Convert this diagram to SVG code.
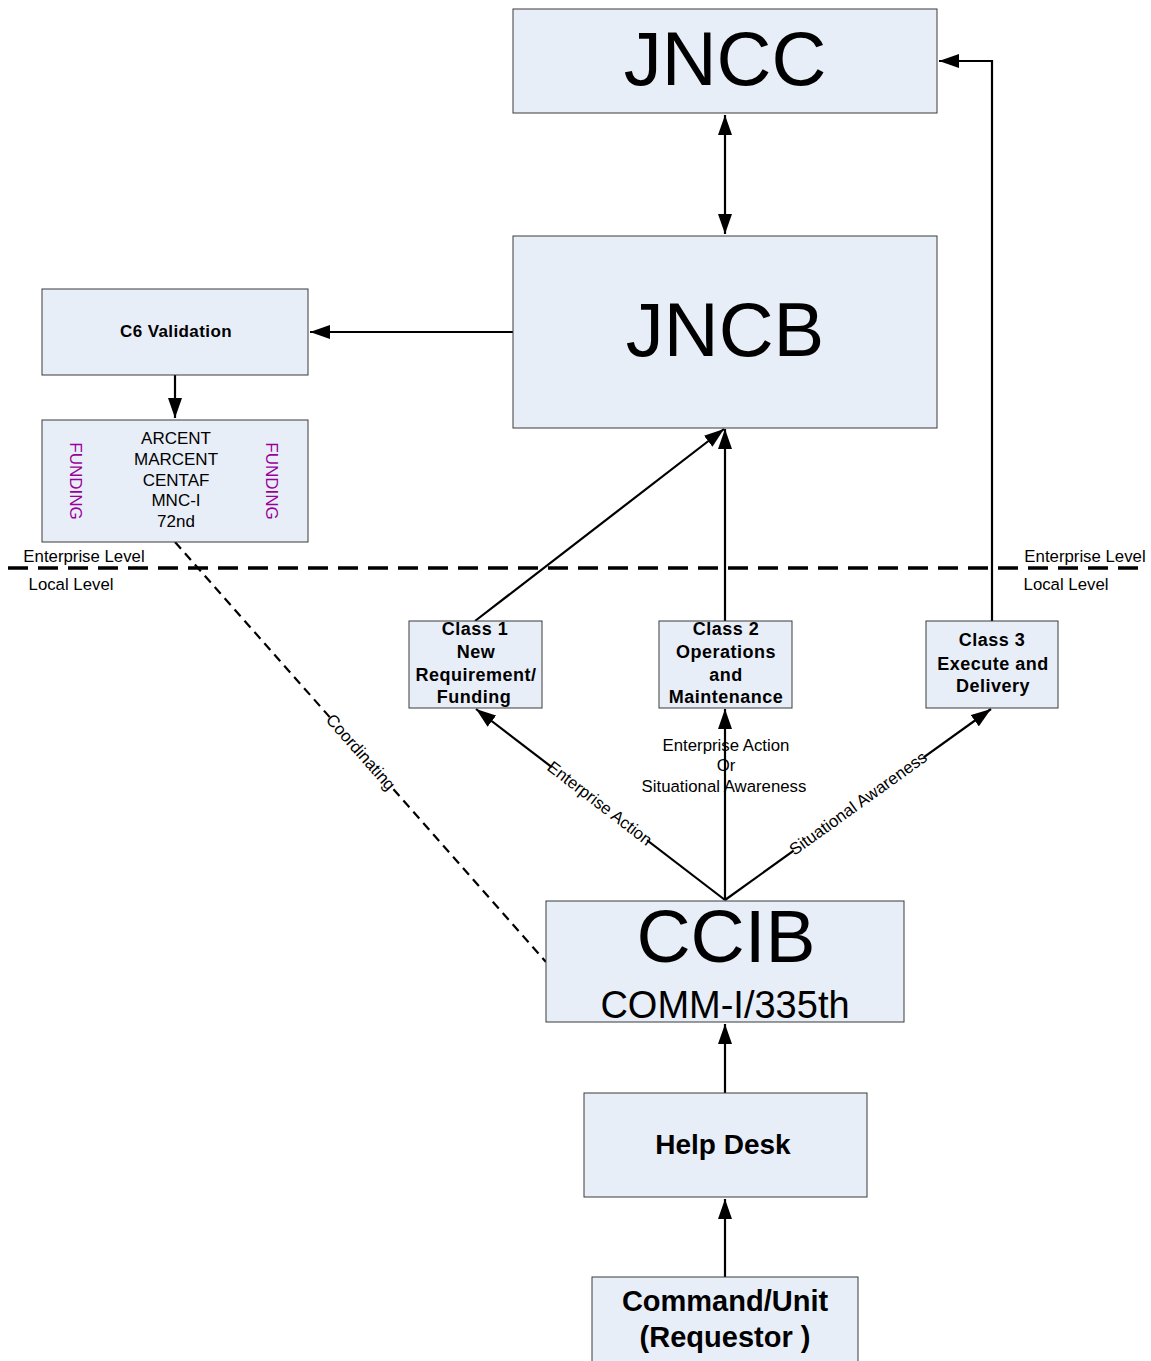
<svg xmlns="http://www.w3.org/2000/svg" width="1151" height="1361" viewBox="0 0 1151 1361">
<style>
.box{fill:#E8EEF7;stroke:#3a3a3a;stroke-width:1}
.t{font-family:"Liberation Sans",Arial,sans-serif;fill:#000;text-anchor:middle}
.b{font-weight:bold}
.cl{font-weight:bold;font-size:18px;letter-spacing:0.5px}
.c{stroke:#000;stroke-width:2.2;fill:none}
.lbl{font-family:"Liberation Sans",Arial,sans-serif;font-size:16.8px;text-anchor:middle;fill:#000}
.fund{font-family:"Liberation Sans",Arial,sans-serif;font-size:17px;fill:#990099;text-anchor:middle}
</style>
<defs>
<marker id="ah" viewBox="0 0 20 14" refX="20" refY="7" markerWidth="20" markerHeight="14" markerUnits="userSpaceOnUse" orient="auto-start-reverse">
<path d="M0,0 L20,7 L0,14 Z" fill="#000"/>
</marker>
</defs>
<rect width="1151" height="1361" fill="#fff"/>

<g id="connectors">
<line class="c" x1="725" y1="115" x2="725" y2="234" marker-start="url(#ah)" marker-end="url(#ah)"/>
<polyline class="c" points="992,621 992,61 939,61" marker-end="url(#ah)"/>
<line class="c" x1="513" y1="332" x2="310" y2="332" marker-end="url(#ah)"/>
<line class="c" x1="175" y1="375" x2="175" y2="418" marker-end="url(#ah)"/>
<line class="c" x1="475" y1="621" x2="724" y2="429" marker-end="url(#ah)"/>
<line class="c" x1="725" y1="621" x2="725" y2="429" marker-end="url(#ah)"/>
<line class="c" x1="725" y1="900" x2="476" y2="709" marker-end="url(#ah)"/>
<line class="c" x1="725" y1="900" x2="725" y2="709" marker-end="url(#ah)"/>
<line class="c" x1="725" y1="900" x2="991" y2="709" marker-end="url(#ah)"/>
<line class="c" x1="725" y1="1093" x2="725" y2="1024" marker-end="url(#ah)"/>
<line class="c" x1="725" y1="1277" x2="725" y2="1199" marker-end="url(#ah)"/>
<line x1="175" y1="542" x2="546" y2="962" stroke="#000" stroke-width="2.2" stroke-dasharray="9,6"/>
<line x1="8" y1="568" x2="1145" y2="568" stroke="#000" stroke-width="3.5" stroke-dasharray="20,10"/>
<g transform="translate(600,803) rotate(37.5)">
<rect x="-60" y="-10" width="120" height="20" fill="#fff"/>
<text class="lbl" x="0" y="6">Enterprise Action</text>
</g>
<g transform="translate(858,803) rotate(-35.7)">
<rect x="-80" y="-10" width="160" height="20" fill="#fff"/>
<text class="lbl" x="0" y="6">Situational Awareness</text>
</g>
<g transform="translate(361,752) rotate(48.5)">
<rect x="-47" y="-10" width="94" height="20" fill="#fff"/>
<text class="lbl" x="0" y="6">Coordinating</text>
</g>
<text class="lbl" x="726" y="751">Enterprise Action</text>
<text class="lbl" x="726" y="771">Or</text>
<text class="lbl" x="724" y="792">Situational Awareness</text>
<text class="lbl" x="84" y="562">Enterprise Level</text>
<text class="lbl" x="71" y="590">Local Level</text>
<text class="lbl" x="1085" y="562">Enterprise Level</text>
<text class="lbl" x="1066" y="590">Local Level</text>
</g>

<g id="jncc">
<rect class="box" x="513" y="9" width="424" height="104"/>
<text class="t" x="725" y="85" font-size="76">JNCC</text>
</g>
<g id="jncb">
<rect class="box" x="513" y="236" width="424" height="192"/>
<text class="t" x="725" y="356" font-size="76">JNCB</text>
</g>
<g id="c6">
<rect class="box" x="42" y="289" width="266" height="86"/>
<text class="t b" x="176" y="337" font-size="17" letter-spacing="0.4">C6 Validation</text>
</g>
<g id="arcent">
<rect class="box" x="42" y="420" width="266" height="122"/>
<text class="t" x="176" y="444" font-size="17">ARCENT</text>
<text class="t" x="176" y="465" font-size="17">MARCENT</text>
<text class="t" x="176" y="486" font-size="17">CENTAF</text>
<text class="t" x="176" y="506" font-size="17">MNC-I</text>
<text class="t" x="176" y="527" font-size="17">72nd</text>
<text class="fund" transform="translate(70,481) rotate(90)">FUNDING</text>
<text class="fund" transform="translate(266,481) rotate(90)">FUNDING</text>
</g>
<g id="class1">
<rect class="box" x="409" y="621" width="133" height="87"/>
<text class="t cl" x="475" y="635">Class 1</text>
<text class="t cl" x="476" y="658">New</text>
<text class="t cl" x="476" y="681">Requirement/</text>
<text class="t cl" x="474" y="703">Funding</text>
</g>
<g id="class2">
<rect class="box" x="659" y="621" width="133" height="87"/>
<text class="t cl" x="726" y="635">Class 2</text>
<text class="t cl" x="726" y="658">Operations</text>
<text class="t cl" x="726" y="681">and</text>
<text class="t cl" x="726" y="703">Maintenance</text>
</g>
<g id="class3">
<rect class="box" x="926" y="621" width="132" height="87"/>
<text class="t cl" x="992" y="646">Class 3</text>
<text class="t cl" x="993" y="670">Execute and</text>
<text class="t cl" x="993" y="692">Delivery</text>
</g>
<g id="ccib">
<rect class="box" x="546" y="901" width="358" height="121"/>
<text class="t" x="726" y="962" font-size="75">CCIB</text>
<text class="t" x="725" y="1018" font-size="38">COMM-I/335th</text>
</g>
<g id="helpdesk">
<rect class="box" x="584" y="1093" width="283" height="104"/>
<text class="t b" x="723" y="1154" font-size="28">Help Desk</text>
</g>
<g id="command">
<rect class="box" x="592" y="1277" width="266" height="90"/>
<text class="t b" x="725" y="1311" font-size="29">Command/Unit</text>
<text class="t b" x="725" y="1347" font-size="29">(Requestor )</text>
</g>
</svg>
